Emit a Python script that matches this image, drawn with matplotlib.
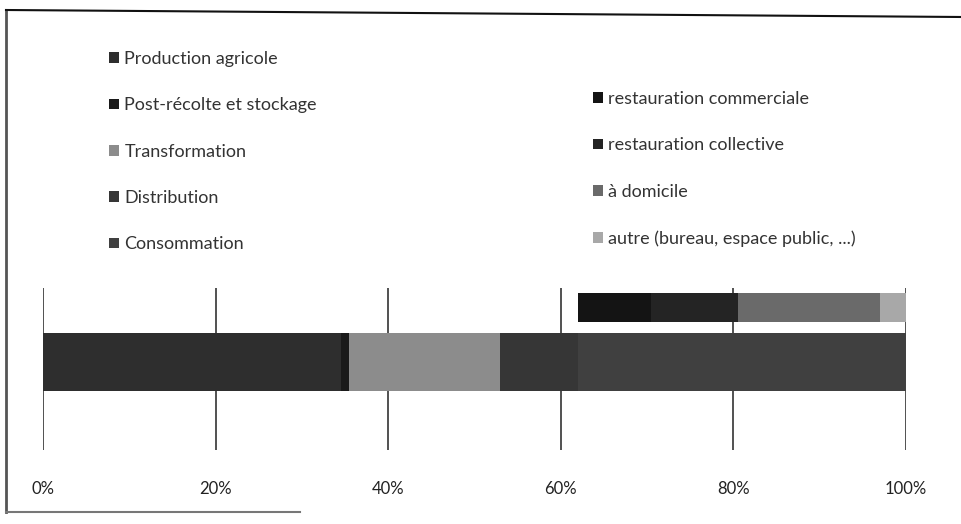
import matplotlib.pyplot as plt
from matplotlib.lines import Line2D

plt.rcParams['font.family'] = ['Lato', 'DejaVu Sans']

# main bar: food waste by stage (% of total)
stages = ['Production agricole', 'Post-récolte et stockage', 'Transformation',
          'Distribution', 'Consommation']
stage_vals = [34.5, 1.0, 17.5, 9.0, 38.0]
stage_cols = ['#2e2e2e', '#1a1a1a', '#8c8c8c', '#363636', '#404040']

# upper bar: breakdown of consommation
conso = ['restauration commerciale', 'restauration collective', 'à domicile',
         'autre (bureau, espace public, ...)']
conso_vals = [8.5, 10.0, 16.5, 3.0]
conso_cols = ['#141414', '#242424', '#6a6a6a', '#a8a8a8']

ticks = [0, 20, 40, 60, 80, 100]
tick_labels = ['0%', '20%', '40%', '60%', '80%', '100%']

W, H = 962, 524
fig = plt.figure(figsize=(W / 100, H / 100), dpi=100)
# axes placed in pixel terms
ax = fig.add_axes([43 / W, (H - 450) / H, (906 - 43) / W, (450 - 288) / H])

y_main, h_main = 362, 58
y_top, h_top = 307.5, 29

left = 0
main_handles = []
for name, v, c in zip(stages, stage_vals, stage_cols):
    b = ax.barh(y_main, v, left=left, height=h_main, color=c, label=name, zorder=2)
    main_handles.append(b)
    left += v

left = sum(stage_vals[:-1])
conso_handles = []
for name, v, c in zip(conso, conso_vals, conso_cols):
    b = ax.barh(y_top, v, left=left, height=h_top, color=c, label=name, zorder=2)
    conso_handles.append(b)
    left += v

ax.set_xlim(0, 100)
ax.set_ylim(450, 288)
ax.set_xticks(ticks)
ax.set_xticklabels(tick_labels, fontsize=12, color='#222222')
ax.set_yticks([])
ax.tick_params(axis='x', length=0, pad=22)
ax.grid(axis='x', color='#333333', linewidth=1.2, zorder=1)
for s in ax.spines.values():
    s.set_visible(False)

leg_kw = dict(frameon=False, fontsize=13, handlelength=0.55, handleheight=0.55,
              handletextpad=0.3, labelspacing=1.68, borderpad=0,
              labelcolor='#333333')
l1 = fig.legend(main_handles, stages, loc='upper left',
                bbox_to_anchor=(100 / W, 1 - 42 / H), **leg_kw)
l2 = fig.legend(conso_handles, conso, loc='upper left',
                bbox_to_anchor=(584 / W, 1 - 82 / H), **leg_kw)

# scanned page frame
fig.add_artist(Line2D([6 / W, 6 / W], [1 - 10 / H, 1 - 512 / H],
                      transform=fig.transFigure, color='#555555', lw=2))
fig.add_artist(Line2D([6 / W, 1], [1 - 10 / H, 1 - 17 / H],
                      transform=fig.transFigure, color='#111111', lw=1.5))
fig.add_artist(Line2D([6 / W, 300 / W], [1 - 512 / H, 1 - 512 / H],
                      transform=fig.transFigure, color='#777777', lw=1.5))

fig.savefig('out.png', dpi=100)
